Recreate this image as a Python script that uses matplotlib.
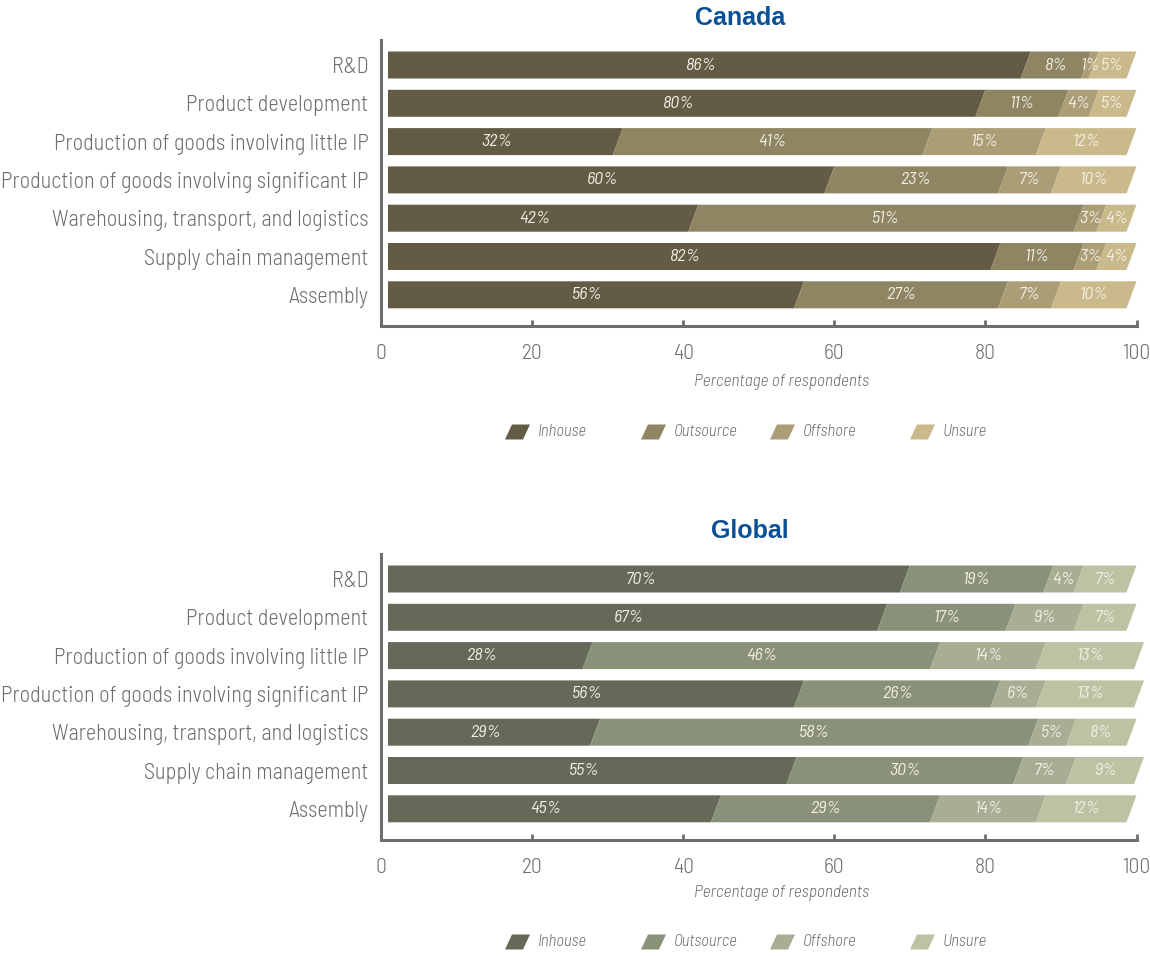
import numpy as np
import matplotlib
matplotlib.use("Agg")
import matplotlib.pyplot as plt
from matplotlib.patches import Polygon

plt.rcParams['font.family'] = ['Barlow Semi Condensed', 'DejaVu Sans']
plt.rcParams['font.weight'] = 300

activities = [
    "R&D",
    "Product development",
    "Production of goods involving little IP",
    "Production of goods involving significant IP",
    "Warehousing, transport, and logistics",
    "Supply chain management",
    "Assembly",
]
segments = ["Inhouse", "Outsource", "Offshore", "Unsure"]

canada_inhouse = [86, 80, 32, 60, 42, 82, 56]
canada_outsource = [8, 11, 41, 23, 51, 11, 27]
canada_offshore = [1, 4, 15, 7, 3, 3, 7]
canada_unsure = [5, 5, 12, 10, 4, 4, 10]

global_inhouse = [70, 67, 28, 56, 29, 55, 45]
global_outsource = [19, 17, 46, 26, 58, 30, 29]
global_offshore = [4, 9, 14, 6, 5, 7, 14]
global_unsure = [7, 7, 13, 13, 8, 9, 12]

canada_colors = ["#645b45", "#8e8563", "#ab9d75", "#cab98a"]
global_colors = ["#646a57", "#8a9179", "#a7ae93", "#bbc3a2"]

GRAY = "#6d6e71"
BLUE = "#0b4f95"
LABEL_WHITE = "#f3efe4"

W, H = 1150, 956
PX = 7.555          # pixels per percentage point
ROW = 38.3          # pixels per bar row
SLANT = 10 / PX
GAP = 7 / PX
BAR_H = 27 / ROW

fig = plt.figure(figsize=(W / 100, H / 100), dpi=100)
fig.patch.set_facecolor("white")


def draw_panel(first_row_px, title, title_x, title_y, values, colors, label_y, legend_y):
    ax_top = first_row_px - 25
    ax_bot = first_row_px + 6 * ROW + 31
    ax = fig.add_axes([381 / W, 1 - ax_bot / H, 101 * PX / W, (ax_bot - ax_top) / H])
    ax.set_xlim(0, 101)
    ax.set_ylim((ax_bot - first_row_px) / ROW, (ax_top - first_row_px) / ROW)

    data = np.array(values, dtype=float)
    left = np.zeros(data.shape[1])
    for k in range(data.shape[0]):
        for i in range(data.shape[1]):
            v = data[k, i]
            x0, x1 = left[i], left[i] + v
            yt, yb = i - BAR_H / 2, i + BAR_H / 2
            if k == 0:
                pts = [(GAP, yt), (x1, yt), (x1 - SLANT, yb), (GAP, yb)]
            else:
                pts = [(x0, yt), (x1, yt), (x1 - SLANT, yb), (x0 - SLANT, yb)]
            ax.add_patch(Polygon(pts, closed=True, facecolor=colors[k], edgecolor="none"))
            ax.text((x0 + x1) / 2 - SLANT / 2, i, f"{int(v)}%", ha="center", va="center",
                    fontsize=13, style="italic", weight=400, color=LABEL_WHITE)
        left += data[k]

    for side in ("top", "right"):
        ax.spines[side].set_visible(False)
    for side in ("left", "bottom"):
        ax.spines[side].set_color(GRAY)
        ax.spines[side].set_linewidth(2.2)
    ax.spines["bottom"].set_bounds(0, 100)

    ax.set_xticks([0, 20, 40, 60, 80, 100])
    ax.tick_params(axis="x", direction="in", length=4.5, width=2, color=GRAY,
                   labelcolor=GRAY, labelsize=15.5, pad=13)
    ax.xaxis.get_major_ticks()[0].tick1line.set_visible(False)
    ax.set_yticks(range(len(activities)))
    ax.set_yticklabels(activities)
    ax.tick_params(axis="y", length=0, pad=9, labelcolor=GRAY, labelsize=16)

    ax.text(53, (label_y - first_row_px) / ROW, "Percentage of respondents",
            ha="center", va="center", fontsize=12.5, style="italic", color=GRAY)

    fig.text(title_x / W, 1 - title_y / H, title, ha="center", va="center",
             fontsize=18, fontweight="bold", color=BLUE, family="Liberation Sans")

    # legend with slanted swatches
    yc = (legend_y - first_row_px) / ROW
    for k, name in enumerate(segments):
        xl = ([505, 641, 770, 910][k] - 381) / PX
        yt, yb = yc - 7.5 / ROW, yc + 7.5 / ROW
        pts = [(xl, yb), (xl + 18 / PX, yb), (xl + 25 / PX, yt), (xl + 7 / PX, yt)]
        ax.add_patch(Polygon(pts, closed=True, facecolor=colors[k], edgecolor="none",
                             clip_on=False))
        ax.text(xl + 33 / PX, yc, name, ha="left", va="center", fontsize=12,
                style="italic", color=GRAY, clip_on=False)
    return ax


draw_panel(65, "Canada", 740, 18,
           [canada_inhouse, canada_outsource, canada_offshore, canada_unsure],
           canada_colors, 382, 432)
draw_panel(579, "Global", 750, 531,
           [global_inhouse, global_outsource, global_offshore, global_unsure],
           global_colors, 893, 942)

fig.savefig("out.png", dpi=100, facecolor="white")
